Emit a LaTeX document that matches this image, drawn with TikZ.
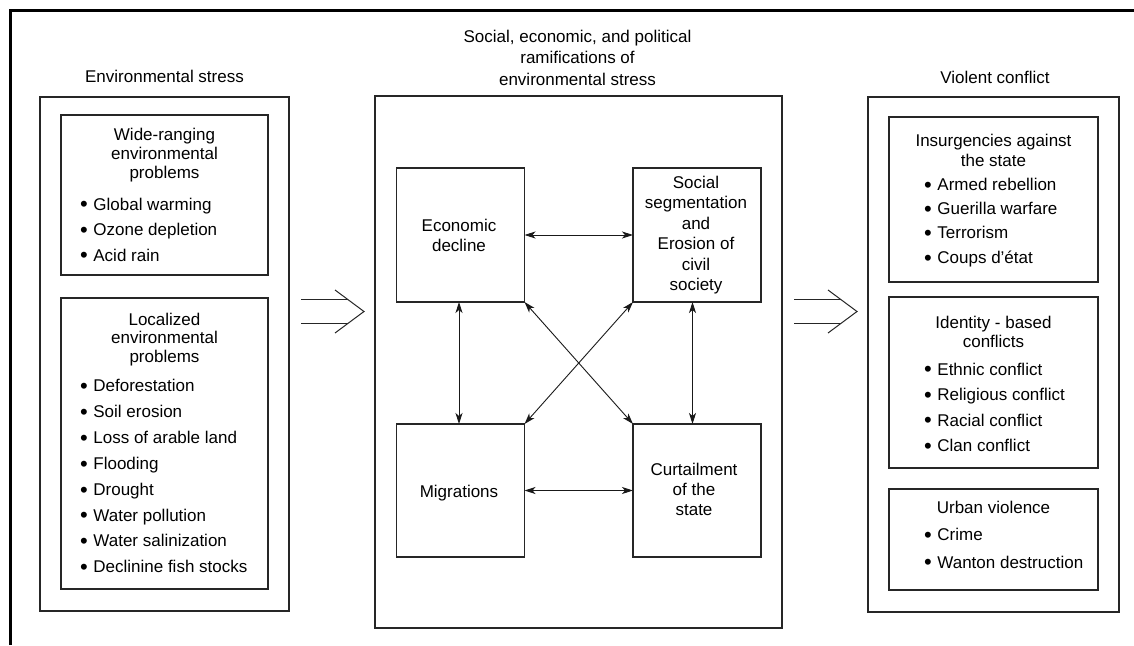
\documentclass[tikz,border=0pt]{standalone}
\usepackage{fontspec}
\setmainfont{Liberation Sans}
\usetikzlibrary{arrows.meta,calc}
\newcommand\diagfont{\fontsize{17}{19}\selectfont}
\newcommand\bul{{\fontsize{22}{19}\selectfont\raisebox{-1.9pt}{\textbullet}}\hspace{5.5pt}}
\begin{document}
\begin{tikzpicture}[x=1pt,y=-1pt,
  frame/.style={draw=black!85, line width=1.1pt, inner sep=0pt, outer sep=0pt, anchor=north west},
  txt/.style={anchor=base, inner sep=0pt, font=\diagfont},
  item/.style={anchor=base west, inner sep=0pt, font=\diagfont},
  link/.style={{Stealth[length=11pt,width=7pt,inset=3pt]}-{Stealth[length=11pt,width=7pt,inset=3pt]}, line width=0.9pt, black!90},
  bigarrow/.style={line width=1pt, black!85}]
\useasboundingbox (0,0) rectangle (1134,645);
\fill[white] (0,0) rectangle (1134,645);

% page frame
\draw[line width=3pt] (10,645) -- (10,10) -- (1134,10);

% ---------------- environmental stress ----------------
\node[txt] (t-env) at (164.5,82) {Environmental stress};
\node[frame, minimum width=249pt, minimum height=514pt] (envbox) at (40,97) {};
\node[frame, minimum width=207pt, minimum height=160pt] (wide) at (61,115) {};
\node[frame, minimum width=207pt, minimum height=291pt] (local) at (61,298) {};

\foreach \t [count=\i] in {Wide-ranging, environmental, problems}
  \node[txt] (wide-h\i) at (164.5,{140+19*(\i-1)}) {\t};
\foreach \t [count=\i] in {Global warming, Ozone depletion, Acid rain}
  \node[item] (wide-i\i) at (80,{210+25.5*(\i-1)}) {\bul\t};

\foreach \t [count=\i] in {Localized, environmental, problems}
  \node[txt] (local-h\i) at (164.5,{325+18.5*(\i-1)}) {\t};
\foreach \t [count=\i] in {Deforestation, Soil erosion, Loss of arable land, Flooding,
    Drought, Water pollution, Water salinization, Declinine fish stocks}
  \node[item] (local-i\i) at (80,{391.7+25.86*(\i-1)}) {\bul\t};

% ---------------- ramifications ----------------
\foreach \t [count=\i] in {{Social, economic, and political}, ramifications of, environmental stress}
  \node[txt] (t-ram\i) at (577.5,{42+21.5*(\i-1)}) {\t};
\node[frame, minimum width=407pt, minimum height=532pt] (ramif) at (375,96) {};

\node[frame, minimum width=128pt, minimum height=134pt] (econ) at (396.5,168) {};
\node[frame, minimum width=128pt, minimum height=134pt] (social) at (633,168) {};
\node[frame, minimum width=128pt, minimum height=133pt] (migr) at (396.5,424) {};
\node[frame, minimum width=128pt, minimum height=133pt] (curt) at (633,424) {};

\foreach \t [count=\i] in {Economic, decline}
  \node[txt] (econ-t\i) at (459,{231.5+20*(\i-1)}) {\t};
\foreach \t [count=\i] in {Social, segmentation, and, Erosion of, civil, society}
  \node[txt] (social-t\i) at (696,{188+20.5*(\i-1)}) {\t};
\node[txt] (migr-t) at (459,497) {Migrations};
\foreach \t [count=\i] in {Curtailment, of the, state}
  \node[txt] (curt-t\i) at (694,{475.7+20*(\i-1)}) {\t};

\draw[link] (econ.east) -- (social.west);
\draw[link] (migr.east) -- (curt.west);
\draw[link] ([xshift=-1.5pt]econ.south) -- ([xshift=-1.5pt]migr.north);
\draw[link] ([xshift=-4.5pt]social.south) -- ([xshift=-4.5pt]curt.north);
\draw[link] (econ.south east) -- (curt.north west);
\draw[link] (social.south west) -- (migr.north east);

% ---------------- violent conflict ----------------
\node[txt] (t-viol) at (995,83) {Violent conflict};
\node[frame, minimum width=251pt, minimum height=515pt] (conflict) at (868,97) {};
\node[frame, minimum width=209pt, minimum height=165pt] (insurg) at (889,117) {};
\node[frame, minimum width=209pt, minimum height=171pt] (ident) at (889,297) {};
\node[frame, minimum width=209pt, minimum height=101pt] (urban) at (889,489) {};

\foreach \t [count=\i] in {Insurgencies against, the state}
  \node[txt] (insurg-h\i) at (993.5,{146.5+20*(\i-1)}) {\t};
\foreach \t [count=\i] in {Armed rebellion, Guerilla warfare, Terrorism, Coups d’état}
  \node[item] (insurg-i\i) at (924,{190.5+24.2*(\i-1)}) {\bul\t};

\foreach \t [count=\i] in {Identity - based, conflicts}
  \node[txt] (ident-h\i) at (993.5,{328+19.5*(\i-1)}) {\t};
\foreach \t [count=\i] in {Ethnic conflict, Religious conflict, Racial conflict, Clan conflict}
  \node[item] (ident-i\i) at (924,{375+25.5*(\i-1)}) {\bul\t};

\node[txt] (urban-h) at (993.5,513) {Urban violence};
\foreach \t [count=\i] in {Crime, Wanton destruction}
  \node[item] (urban-i\i) at (924,{540.5+27.5*(\i-1)}) {\bul\t};

% ---------------- broad arrows between the columns ----------------
\coordinate (arrL) at (364,311.5);
\coordinate (arrR) at (857,311.5);
\foreach \c in {arrL,arrR} {
  \draw[bigarrow] ($(\c)+(-63,-12)$) -- ($(\c)+(-16.2,-12)$);
  \draw[bigarrow] ($(\c)+(-63,12)$) -- ($(\c)+(-16.2,12)$);
  \draw[bigarrow] ($(\c)+(-29,-21.5)$) -- (\c) -- ($(\c)+(-29,21.5)$);
}
\end{tikzpicture}
\end{document}
